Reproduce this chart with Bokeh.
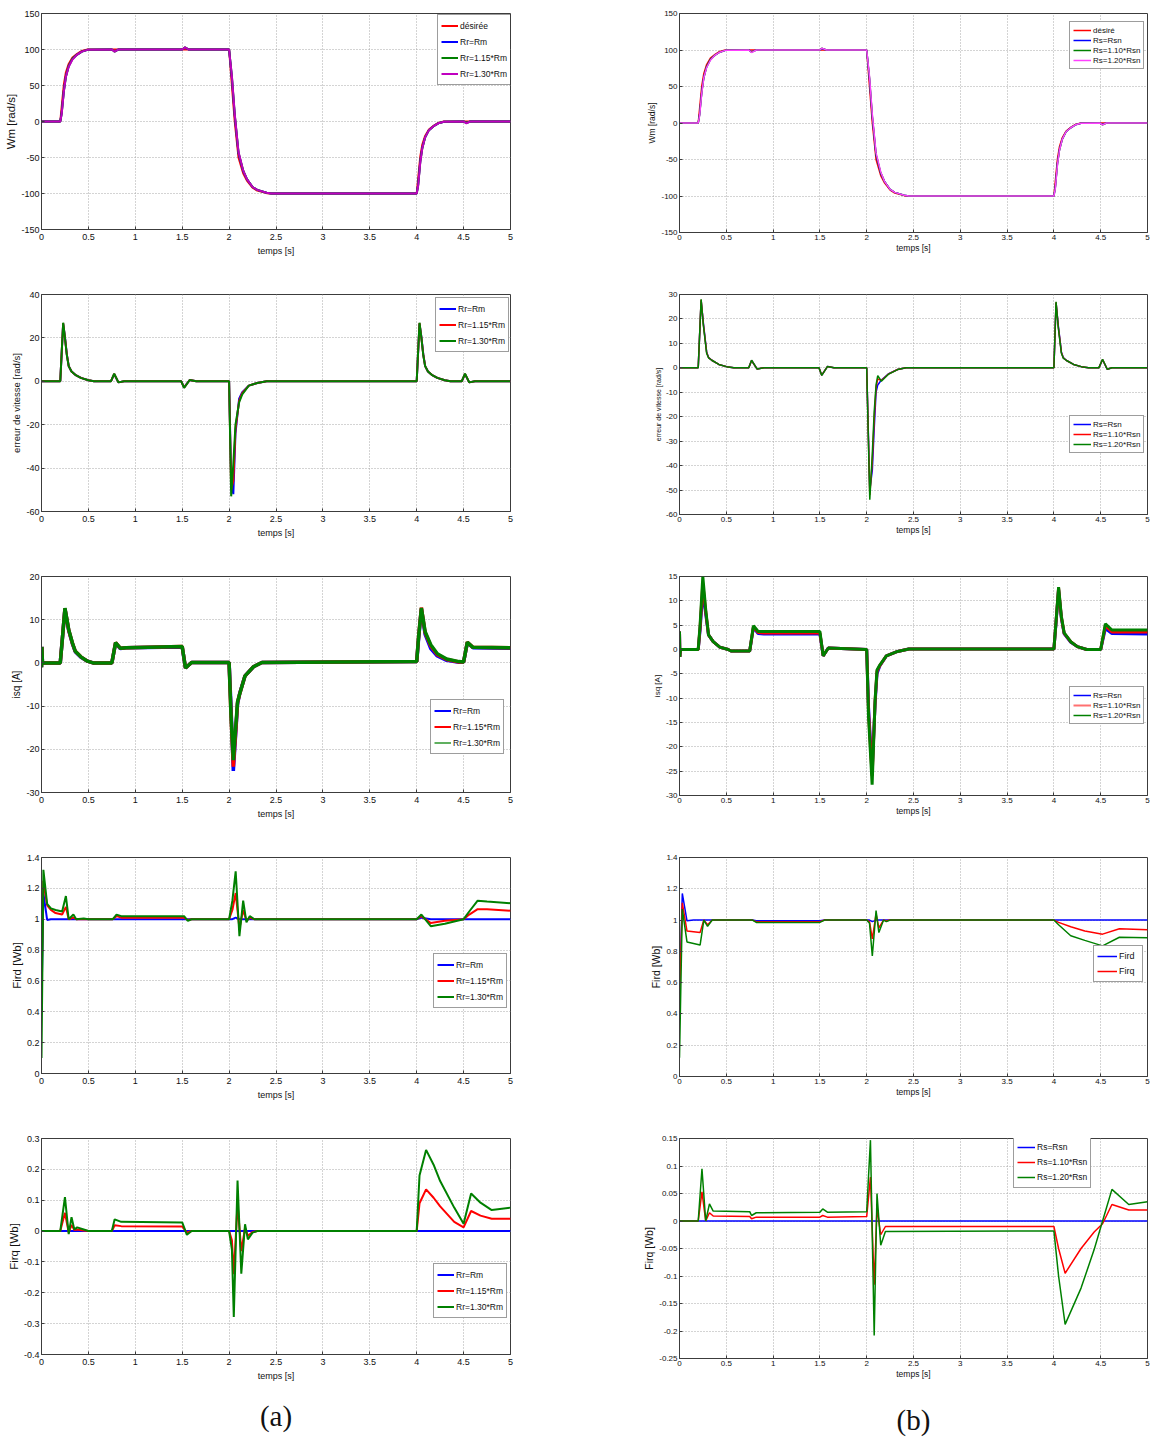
from bokeh.plotting import figure
from bokeh.models import Range1d, FixedTicker, Legend, LegendItem, LinearAxis
from bokeh.layouts import row, column
from bokeh.embed import file_html
from bokeh.resources import INLINE

FONT = "Liberation Sans"
CAP_FONT = "Liberation Serif"

RED = "#ff0000"
BLUE = "#0000ff"
GREEN = "#008000"
MAGENTA = "#c000c0"
PINK = "#ff40ff"
NAN = float("nan")

x_ticks = [0, 0.5, 1, 1.5, 2, 2.5, 3, 3.5, 4, 4.5, 5]
x_tick_labels = ["0", "0.5", "1", "1.5", "2", "2.5", "3", "3.5", "4", "4.5", "5"]
x_label = "temps [s]"

# ---------------- column (a) ----------------
a1_y_ticks = [-150, -100, -50, 0, 50, 100, 150]
a1_y_labels = ["-150", "-100", "-50", "0", "50", "100", "150"]
a1_t = [0, 0.2, 0.215, 0.238, 0.26, 0.29, 0.33, 0.38, 0.43, 0.49,
        0.75, 0.78, 0.82, 1.5, 1.53, 1.57,
        2.0, 2.03, 2.06, 2.1, 2.15, 2.19, 2.25, 2.3, 2.4, 2.45,
        4.0, 4.015, 4.038, 4.06, 4.09, 4.13, 4.18, 4.23, 4.29,
        4.5, 4.53, 4.57, 5.0]
a1_des = [0, 0, 20, 51, 68, 80, 89, 94, 98, 100,
          100, 100, 100, 100, 100, 100,
          100, 50, 0, -50, -72, -82, -92, -96, -99.5, -100,
          -100, -80, -49, -32, -20, -11, -6, -2, 0,
          0, 0, 0, 0]
a1_rr1 = [0, 0, 12, 43, 63, 77, 87, 93, 97, 99.5,
          100, 97.5, 100, 100, 102.5, 100,
          100, 60, 8, -44, -69, -80, -91, -95, -99, -100,
          -100, -88, -55, -36, -22, -12, -6.5, -2.5, -0.3,
          0, -2, 0, 0]
a1_rr2 = [0, 0, 11, 42, 62, 77, 87, 93, 97, 99.5,
          100, 97, 100, 100, 103, 100,
          100, 62, 10, -43, -68, -80, -91, -95, -99, -100,
          -100, -89, -56, -37, -22, -12, -6.5, -2.5, -0.3,
          0, -2, 0, 0]
a1_rr3 = [0, 0, 10, 41, 62, 76, 86, 93, 97, 99.5,
          100, 97, 100, 100, 103, 100,
          100, 63, 11, -42, -68, -80, -91, -95, -99, -100,
          -100, -90, -57, -37, -22, -12, -6.5, -2.5, -0.3,
          0, -2.5, 0, 0]

a2_y_ticks = [-60, -40, -20, 0, 20, 40]
a2_y_labels = ["-60", "-40", "-20", "0", "20", "40"]
a2_t = [0, 0.2, 0.231, 0.25, 0.27, 0.29, 0.32, 0.36, 0.42, 0.5,
        0.56, 0.74, 0.775, 0.82, 0.88,
        1.49, 1.52, 1.58, 1.65,
        2.0, 2.022, 2.045, 2.068, 2.107, 2.14, 2.21, 2.3, 2.4,
        4.0, 4.03, 4.05, 4.07, 4.09, 4.12, 4.16, 4.22, 4.3, 4.36,
        4.48, 4.515, 4.56, 4.62, 5.0]
a2_rr1 = [0, 0, 26.5, 20.5, 12.5, 7, 4.5, 3, 1.6, 0.5,
          0, 0, 3.3, -0.5, 0,
          0, -2.8, 0.6, 0,
          0, -46, -52, -24, -8, -5, -2, -0.8, 0,
          0, 26.5, 20.5, 12.5, 7, 4.5, 3, 1.6, 0.5, 0,
          0, 3.3, -0.5, 0, 0]
a2_rr2 = [0, 0, 26.8, 20, 12.3, 7, 4.5, 3, 1.6, 0.5,
          0, 0, 3.4, -0.5, 0,
          0, -2.9, 0.6, 0,
          0, -50, -46, -22, -9, -5.5, -2, -0.8, 0,
          0, 26.8, 20, 12.3, 7, 4.5, 3, 1.6, 0.5, 0,
          0, 3.4, -0.5, 0, 0]
a2_rr3 = [0, 0, 27, 20, 12, 7, 4.5, 3, 1.6, 0.5,
          0, 0, 3.5, -0.5, 0,
          0, -3, 0.6, 0,
          0, -53, -38, -20, -9.7, -6, -2, -0.8, 0,
          0, 27, 20, 12, 7, 4.5, 3, 1.6, 0.5, 0,
          0, 3.5, -0.5, 0, 0]

a3_y_ticks = [-30, -20, -10, 0, 10, 20]
a3_y_labels = ["-30", "-20", "-10", "0", "10", "20"]
a3_t = [0, 0.004, 0.01, 0.2, 0.22, 0.25, 0.29, 0.33, 0.36, 0.42, 0.49, 0.55,
        0.75, 0.79, 0.84, 0.9, 1.5,
        1.535, 1.6, 2.0,
        2.02, 2.045, 2.07, 2.09, 2.115, 2.17, 2.26, 2.35,
        4.0, 4.02, 4.05, 4.09, 4.15, 4.22, 4.32, 4.45,
        4.5, 4.54, 4.6, 5.0]
a3_rr1 = [-1, 3.7, 0, 0, 5, 12.5, 7.5, 4.4, 2.6, 1.3, 0.4, 0,
          0, 4.6, 3.3, 3.5, 3.7,
          -1.2, 0.1, 0.1,
          -10, -25, -16.5, -9.5, -6.9, -3, -0.9, 0.1,
          0.3, 5.5, 12.5, 6.6, 3.3, 1.6, 0.6, 0.15,
          0.2, 4.7, 3.5, 3.4]
a3_rr2 = [-1, 3.7, 0, 0, 5, 12.6, 7.6, 4.5, 2.7, 1.4, 0.4, 0,
          0, 4.7, 3.4, 3.5, 3.8,
          -1.2, 0.1, 0.1,
          -12, -24, -16, -9.2, -7, -3, -0.9, 0.1,
          0.3, 6, 12.8, 7, 3.9, 1.9, 0.8, 0.2,
          0.2, 4.8, 3.6, 3.5]
a3_rr3 = [-1, 3.7, 0, 0, 5, 12.7, 7.7, 4.6, 2.7, 1.4, 0.4, 0,
          0, 4.7, 3.4, 3.5, 3.8,
          -1.2, 0.1, 0.1,
          -12, -22.5, -15, -9, -7, -3, -0.9, 0.1,
          0.3, 6, 12.7, 7.2, 4.2, 2.1, 0.9, 0.3,
          0.2, 4.8, 3.6, 3.5]

a4_y_ticks = [0, 0.2, 0.4, 0.6, 0.8, 1.0, 1.2, 1.4]
a4_y_labels = ["0", "0.2", "0.4", "0.6", "0.8", "1", "1.2", "1.4"]
a4_t = [0, 0.02, 0.06, 0.1, 0.15, 0.22, 0.26, 0.29, 0.34, 0.37, 0.45, 0.5,
        0.76, 0.8, 0.85, 1.52, 1.56, 1.6,
        2.0, 2.035, 2.07, 2.11, 2.15, 2.185, 2.22, 2.27,
        4.0, 4.05, 4.15, 4.3, 4.5, 4.56, 4.65, 4.75, 5.0]
a4_rr1 = [0.45, 1.17, 0.995, 1.0, 1.0, 1.0, 1.0, 1.0, 1.0, 1.0, 1.0, 1.0,
          1.0, 1.0, 1.0, 1.0, 1.0, 1.0,
          1.0, 1.0, 1.01, 1.0, 1.0, 1.0, 1.0, 1.0,
          1.0, 1.01, 1.0, 1.0, 1.0, 1.0, 1.0, 1.0, 1.0]
a4_rr2 = [0.55, 1.25, 1.09, 1.06, 1.04, 1.03, 1.08, 1.0, 1.01, 1.0, 1.0, 1.0,
          1.0, 1.02, 1.01, 1.01, 0.995, 1.0,
          1.0, 1.06, 1.17, 0.94, 1.06, 0.99, 1.01, 1.0,
          1.0, 1.02, 0.975, 0.99, 1.0, 1.03, 1.065, 1.065, 1.055]
a4_rr3 = [0.1, 1.32, 1.1, 1.07, 1.06, 1.05, 1.15, 1.0, 1.03, 1.0, 1.005, 1.0,
          1.0, 1.03, 1.02, 1.02, 0.99, 1.0,
          1.0, 1.12, 1.31, 0.89, 1.12, 0.98, 1.02, 1.0,
          1.0, 1.03, 0.955, 0.97, 1.0, 1.05, 1.12, 1.115, 1.104]

a5_y_ticks = [-0.4, -0.3, -0.2, -0.1, 0, 0.1, 0.2, 0.3]
a5_y_labels = ["-0.4", "-0.3", "-0.2", "-0.1", "0", "0.1", "0.2", "0.3"]
a5_t = [0, 0.2, 0.25, 0.29, 0.32, 0.35, 0.38, 0.45, 0.5,
        0.75, 0.78, 0.85, 1.5, 1.55, 1.6,
        2.0, 2.03, 2.05, 2.09, 2.13, 2.17, 2.2, 2.25, 2.3,
        4.0, 4.03, 4.1, 4.18, 4.25, 4.4, 4.5, 4.58, 4.68, 4.8, 5.0]
a5_rr1 = [0, 0, 0, 0, 0, 0, 0, 0, 0,
          0, 0, 0, 0, 0, 0,
          0, 0, 0, 0, 0, 0, 0, 0, 0,
          0, 0, 0, 0, 0, 0, 0, 0, 0, 0, 0]
a5_rr2 = [0, 0, 0.059, -0.005, 0.02, 0.003, 0.005, 0.002, 0,
          0, 0.019, 0.016, 0.015, -0.005, 0,
          0, -0.03, -0.14, 0.089, -0.065, 0.01, -0.015, -0.003, 0,
          0, 0.09, 0.135, 0.108, 0.08, 0.03, 0.012, 0.065, 0.05, 0.04, 0.04]
a5_rr3 = [0, 0, 0.11, -0.01, 0.045, 0.005, 0.012, 0.005, 0,
          0, 0.038, 0.03, 0.028, -0.012, 0,
          0, -0.06, -0.278, 0.164, -0.138, 0.022, -0.027, -0.005, 0,
          0, 0.18, 0.263, 0.215, 0.162, 0.076, 0.024, 0.122, 0.092, 0.068, 0.076]

# ---------------- column (b) ----------------
b1_y_ticks = [-150, -100, -50, 0, 50, 100, 150]
b1_y_labels = ["-150", "-100", "-50", "0", "50", "100", "150"]
b1_t = [0, 0.2, 0.215, 0.238, 0.26, 0.29, 0.33, 0.38, 0.43, 0.49,
        0.74, 0.77, 0.82, 1.5, 1.52, 1.57,
        2.0, 2.03, 2.06, 2.1, 2.15, 2.19, 2.25, 2.3, 2.4, 2.45,
        4.0, 4.015, 4.038, 4.06, 4.09, 4.13, 4.18, 4.23, 4.29,
        4.49, 4.52, 4.56, 5.0]
b1_des = [0, 0, 20, 51, 68, 80, 89, 94, 98, 100,
          100, 100, 100, 100, 100, 100,
          100, 50, 0, -50, -72, -82, -92, -96, -99.5, -100,
          -100, -80, -49, -32, -20, -11, -6, -2, 0,
          0, 0, 0, 0]
b1_rs1 = [0, 0, 12, 43, 63, 77, 87, 93, 97, 99.5,
          100, 97.5, 100, 100, 102, 100,
          100, 60, 8, -44, -69, -80, -91, -95, -99, -100,
          -100, -88, -55, -36, -22, -12, -6.5, -2.5, -0.3,
          0, -2, 0, 0]
b1_rs2 = [0, 0, 11, 42, 62, 77, 87, 93, 97, 99.5,
          100, 97, 100, 100, 102.5, 100,
          100, 62, 10, -43, -68, -80, -91, -95, -99, -100,
          -100, -89, -56, -37, -22, -12, -6.5, -2.5, -0.3,
          0, -2.5, 0, 0]
b1_rs3 = [0, 0, 10, 41, 62, 76, 86, 93, 97, 99.5,
          100, 96.5, 100, 100, 102.5, 100,
          100, 64, 12, -41, -67, -80, -91, -95, -99, -100,
          -100, -90, -57, -37, -22, -12, -6.5, -2.5, -0.3,
          0, -2.5, 0, 0]

b2_y_ticks = [-60, -50, -40, -30, -20, -10, 0, 10, 20, 30]
b2_y_labels = ["-60", "-50", "-40", "-30", "-20", "-10", "0", "10", "20", "30"]
b2_t = [0, 0.2, 0.231, 0.256, 0.29, 0.31, 0.345, 0.42, 0.52, 0.58,
        0.74, 0.77, 0.83, 0.9,
        1.49, 1.52, 1.58, 1.65,
        2.0, 2.033, 2.06, 2.08, 2.1, 2.118, 2.157, 2.23, 2.33, 2.42,
        4.0, 4.023, 4.048, 4.08, 4.1, 4.135, 4.21, 4.31, 4.37,
        4.48, 4.52, 4.57, 4.62, 5.0]
b2_rs1 = [0, 0, 27.5, 18, 6.5, 4.3, 3.1, 1.4, 0.3, 0,
          0, 3.0, -0.5, 0,
          0, -3.0, 0.5, 0,
          0, -50, -42, -25, -10, -7, -5, -2.5, -0.7, 0,
          0, 26.5, 17, 6.5, 4.2, 3, 1.4, 0.3, 0,
          0, 3.3, -0.6, 0, 0]
b2_rs2 = [0, 0, 27.8, 17.5, 6.3, 4.2, 3.1, 1.4, 0.3, 0,
          0, 3.0, -0.5, 0,
          0, -3.0, 0.5, 0,
          0, -52, -38, -21, -8, -4.5, -5.2, -2.6, -0.7, 0,
          0, 26.8, 16.5, 6.3, 4.1, 3, 1.4, 0.3, 0,
          0, 3.4, -0.6, 0, 0]
b2_rs3 = [0, 0, 28, 17, 6, 4.1, 3.1, 1.4, 0.3, 0,
          0, 3.1, -0.5, 0,
          0, -3.1, 0.5, 0,
          0, -54, -35, -18, -7, -3.2, -5.5, -2.7, -0.7, 0,
          0, 27, 16, 6, 4, 3, 1.4, 0.3, 0,
          0, 3.5, -0.6, 0, 0]

b3_y_ticks = [-30, -25, -20, -15, -10, -5, 0, 5, 10, 15]
b3_y_labels = ["-30", "-25", "-20", "-15", "-10", "-5", "0", "5", "10", "15"]
b3_t = [0, 0.004, 0.01, 0.2, 0.22, 0.249, 0.28, 0.31, 0.36, 0.43, 0.52, 0.55,
        0.75, 0.79, 0.84, 0.9, 1.5,
        1.535, 1.59, 2.0,
        2.02, 2.058, 2.09, 2.11, 2.14, 2.21, 2.33, 2.45,
        4.0, 4.02, 4.05, 4.08, 4.11, 4.18, 4.25, 4.35,
        4.5, 4.55, 4.62, 5.0]
b3_rs1 = [3.7, -1.5, 0, 0, 4, 12, 7.3, 3, 1.6, 0.5, 0, -0.3,
          -0.3, 4.5, 3.3, 3.2, 3.2,
          -1.3, 0.3, 0,
          -12, -25, -11, -5, -3.4, -1.3, -0.4, 0.1,
          0.1, 4.8, 12.3, 6.4, 3.2, 1.5, 0.6, 0,
          0, 4.3, 3.3, 3.2]
b3_rs2 = [3.7, -1.5, 0, 0, 4.5, 13.5, 7.8, 3, 1.6, 0.5, 0, -0.3,
          -0.3, 4.7, 3.5, 3.4, 3.4,
          -1.3, 0.3, 0,
          -13, -26, -10.5, -4.5, -3.3, -1.3, -0.4, 0.1,
          0.1, 5, 12.6, 6.6, 3.3, 1.6, 0.6, 0,
          0, 4.9, 3.6, 3.6]
b3_rs3 = [3.7, -1.5, 0, 0, 5, 15, 8.2, 3, 1.6, 0.5, 0, -0.3,
          -0.3, 4.9, 3.7, 3.7, 3.7,
          -1.3, 0.3, 0,
          -14, -27.8, -10.3, -4.2, -3.2, -1.3, -0.4, 0.1,
          0.1, 5, 12.8, 6.8, 3.4, 1.6, 0.6, 0,
          0, 5.3, 4.0, 4.0]

b4_y_ticks = [0, 0.2, 0.4, 0.6, 0.8, 1.0, 1.2, 1.4]
b4_y_labels = ["0", "0.2", "0.4", "0.6", "0.8", "1", "1.2", "1.4"]
b4_t = [0, 0.03, 0.08, 0.15, 0.22, 0.26, 0.3, 0.35, 0.45,
        0.78, 0.82, 1.5, 1.55,
        2.0, 2.03, 2.06, 2.1, 2.13, 2.18, 2.21, 2.25,
        4.0, 4.05, 4.18, 4.33, 4.52, 4.7, 5.0]
b4_s1 = [0.5, 1.17, 0.995, 1.0, 1.0, 1.0, 1.0, 1.0, 1.0,
         1.0, 0.995, 0.995, 1.0,
         1.0, 1.0, 0.99, 1.0, 1.0, 1.0, 1.0, 1.0,
         1.0, 1.0, 1.0, 1.0, 1.0, 1.0, 1.0]
b4_s2 = [0.5, 1.11, 0.93, 0.925, 0.92, 1.0, 0.97, 1.0, 1.0,
         1.0, 0.99, 0.99, 1.0,
         1.0, 0.99, 0.88, 1.04, 0.95, 1.0, 0.995, 1.0,
         1.0, 0.985, 0.957, 0.93, 0.91, 0.944, 0.938]
b4_s3 = [0.12, 1.07, 0.86, 0.85, 0.84, 1.0, 0.96, 1.0, 1.0,
         1.0, 0.985, 0.985, 1.0,
         1.0, 0.98, 0.77, 1.06, 0.92, 1.0, 0.99, 1.0,
         1.0, 0.97, 0.9, 0.87, 0.835, 0.89, 0.887]

b5_y_ticks = [-0.25, -0.2, -0.15, -0.1, -0.05, 0, 0.05, 0.1, 0.15]
b5_y_labels = ["-0.25", "-0.2", "-0.15", "-0.1", "-0.05", "0", "0.05", "0.1", "0.15"]
b5_t = [0, 0.2, 0.24, 0.28, 0.32, 0.36, 0.75,
        0.77, 0.82, 1.5, 1.53, 1.58, 2.0,
        2.04, 2.08, 2.11, 2.15, 2.2, 4.0,
        4.05, 4.12, 4.29, 4.43, 4.52, 4.62, 4.8, 5.0]
b5_rs1 = [0, 0, 0, 0, 0, 0, 0,
          0, 0, 0, 0, 0, 0,
          0, 0, 0, 0, 0, 0,
          0, 0, 0, 0, 0, 0, 0, 0]
b5_rs2 = [0, 0, 0.053, 0, 0.015, 0.009, 0.008,
          0.004, 0.007, 0.007, 0.01, 0.007, 0.008,
          0.08, -0.116, 0.024, -0.025, -0.01, -0.01,
          -0.05, -0.095, -0.05, -0.02, -0.005, 0.03, 0.02, 0.02]
b5_rs3 = [0, 0, 0.095, 0, 0.031, 0.018, 0.017,
          0.01, 0.015, 0.016, 0.022, 0.016, 0.017,
          0.147, -0.208, 0.05, -0.044, -0.019, -0.018,
          -0.1, -0.188, -0.122, -0.052, 0, 0.0575, 0.03, 0.035]

legend_a1 = ["désirée", "Rr=Rm", "Rr=1.15*Rm", "Rr=1.30*Rm"]
legend_a = ["Rr=Rm", "Rr=1.15*Rm", "Rr=1.30*Rm"]
legend_b1 = ["désiré", "Rs=Rsn", "Rs=1.10*Rsn", "Rs=1.20*Rsn"]
legend_b = ["Rs=Rsn", "Rs=1.10*Rsn", "Rs=1.20*Rsn"]
legend_b4 = ["Fird", "Firq"]

FRAME = "#3c3c3c"
GRID = "#a8a8a8"
TXT = "#111111"


def panel(width, height, bl, br, bt, bb, yr, yticks, ylabels, ylab,
          fs_tick, fs_xlab, fs_ylab, x_stand, x_lab_stand):
    p = figure(width=width, height=height, x_range=Range1d(0, 5),
               y_range=Range1d(yr[0], yr[1]), output_backend="svg",
               toolbar_location=None, min_border_left=bl, min_border_right=br,
               min_border_top=bt, min_border_bottom=bb,
               background_fill_color="white", border_fill_color="white")
    p.outline_line_color = FRAME
    p.outline_line_width = 1
    xa = p.xaxis[0]
    ya = p.yaxis[0]
    xa.ticker = FixedTicker(ticks=x_ticks)
    xa.major_label_overrides = dict(zip(x_ticks, x_tick_labels))
    ya.ticker = FixedTicker(ticks=yticks)
    ya.major_label_overrides = dict(zip(yticks, ylabels))
    xa.axis_label = x_label
    ya.axis_label = ylab
    for ax, fl in ((xa, fs_xlab), (ya, fs_ylab)):
        ax.major_tick_in = 3
        ax.major_tick_out = 0
        ax.minor_tick_line_color = None
        ax.axis_line_color = FRAME
        ax.major_tick_line_color = FRAME
        ax.major_label_text_font = FONT
        ax.major_label_text_font_size = f"{fs_tick}px"
        ax.major_label_text_color = TXT
        ax.axis_label_text_font = FONT
        ax.axis_label_text_font_size = f"{fl}px"
        ax.axis_label_text_font_style = "normal"
        ax.axis_label_text_color = TXT
    xa.major_label_standoff = x_stand
    xa.axis_label_standoff = x_lab_stand
    ya.major_label_standoff = 2
    ya.axis_label_standoff = 1
    p.xgrid.ticker = FixedTicker(ticks=x_ticks)
    p.ygrid.ticker = FixedTicker(ticks=yticks)
    for g in (p.xgrid, p.ygrid):
        g.grid_line_color = GRID
        g.grid_line_dash = "1 2"
        g.grid_line_width = 1
    return p


def add_caption(p, text, standoff):
    # tick-less extra axis below the x axis, used only to carry the caption
    cap = LinearAxis(ticker=FixedTicker(ticks=[]), axis_label=text,
                     axis_line_color=None, major_tick_line_color=None,
                     minor_tick_line_color=None, axis_label_standoff=standoff,
                     axis_label_text_font=CAP_FONT, axis_label_text_font_size="29px",
                     axis_label_text_font_style="normal", axis_label_text_color=TXT)
    p.add_layout(cap, "below")


def add_legend(p, rends, labels, loc, fs, h, spacing, pad, gw):
    items = [LegendItem(label=l, renderers=[r]) for l, r in zip(labels, rends)]
    leg = Legend(items=items, location=loc, label_text_font=FONT,
                 label_text_font_size=f"{fs}px", label_text_color=TXT,
                 glyph_width=gw, glyph_height=h, label_height=h,
                 label_standoff=2, spacing=spacing, padding=pad, margin=0,
                 border_line_color=FRAME, border_line_width=1,
                 background_fill_color="white", background_fill_alpha=1.0)
    p.add_layout(leg)


def legend_key(p, color, width):
    # empty (NaN) line used only to draw a thinner legend key
    return p.line([NAN], [NAN], color=color, line_width=width)


LW = 640
RW = 511
A_ARGS = dict(fs_tick=9, fs_xlab=9, x_stand=4, x_lab_stand=3)
B_ARGS = dict(fs_tick=8, fs_xlab=8.5, x_stand=2, x_lab_stand=0)

# ----- column (a) -----
pa1 = panel(LW, 289, 41, 130, 13, 60, (-150, 150), a1_y_ticks, a1_y_labels, "Wm [rad/s]", fs_ylab=11.5, **A_ARGS)
r0 = pa1.line(a1_t, a1_des, color=RED, line_width=2)
r1 = pa1.line(a1_t, a1_rr1, color=BLUE, line_width=2)
r2 = pa1.line(a1_t, a1_rr2, color=GREEN, line_width=2)
r3 = pa1.line(a1_t, a1_rr3, color=MAGENTA, line_width=2)
add_legend(pa1, [r0, r1, r2, r3], legend_a1, (396, 144), 8.5, 15, 1, 3, 17)

pa2 = panel(LW, 282, 41, 130, 5, 60, (-60, 40), a2_y_ticks, a2_y_labels, "erreur de vitesse [rad/s]", fs_ylab=9.5, **A_ARGS)
r1 = pa2.line(a2_t, a2_rr1, color=BLUE, line_width=2)
r2 = pa2.line(a2_t, a2_rr2, color=RED, line_width=2)
r3 = pa2.line(a2_t, a2_rr3, color=GREEN, line_width=2)
add_legend(pa2, [r1, r2, r3], legend_a, (394, 159), 8.5, 15, 1, 3, 17)

pa3 = panel(LW, 281, 41, 130, 5, 60, (-30, 20), a3_y_ticks, a3_y_labels, "isq [A]", fs_ylab=10, **A_ARGS)
r1 = pa3.line(a3_t, a3_rr1, color=BLUE, line_width=3.5)
r2 = pa3.line(a3_t, a3_rr2, color=RED, line_width=3.5)
r3 = pa3.line(a3_t, a3_rr3, color=GREEN, line_width=3.5)
k1 = legend_key(pa3, BLUE, 2)
k2 = legend_key(pa3, RED, 2)
k3 = legend_key(pa3, "#60b060", 2)
add_legend(pa3, [k1, k2, k3], legend_a, (389, 38), 8.5, 15, 1, 3, 17)

pa4 = panel(LW, 281, 41, 130, 5, 60, (0, 1.4), a4_y_ticks, a4_y_labels, "Fird [Wb]", fs_ylab=11.5, **A_ARGS)
r1 = pa4.line(a4_t, a4_rr1, color=BLUE, line_width=2)
r2 = pa4.line(a4_t, a4_rr2, color=RED, line_width=2)
r3 = pa4.line(a4_t, a4_rr3, color=GREEN, line_width=2)
add_legend(pa4, [r1, r2, r3], legend_a, (392, 65), 8.5, 15, 1, 3, 17)

pa5 = panel(LW, 305, 41, 130, 5, 84, (-0.4, 0.3), a5_y_ticks, a5_y_labels, "Firq [Wb]", fs_ylab=11.5, **A_ARGS)
r1 = pa5.line(a5_t, a5_rr1, color=BLUE, line_width=2)
r2 = pa5.line(a5_t, a5_rr2, color=RED, line_width=2)
r3 = pa5.line(a5_t, a5_rr3, color=GREEN, line_width=2)
add_legend(pa5, [r1, r2, r3], legend_a, (392, 36), 8.5, 15, 1, 3, 17)
add_caption(pa5, "(a)", 16)

# ----- column (b) -----
pb1 = panel(RW, 289, 38, 4, 13, 57, (-150, 150), b1_y_ticks, b1_y_labels, "Wm [rad/s]", fs_ylab=8.5, **B_ARGS)
r0 = pb1.line(b1_t, b1_des, color=RED, line_width=1.5)
r1 = pb1.line(b1_t, b1_rs1, color=BLUE, line_width=1.5)
r2 = pb1.line(b1_t, b1_rs2, color=GREEN, line_width=1.5)
r3 = pb1.line(b1_t, b1_rs3, color=PINK, line_width=1.5)
add_legend(pb1, [r0, r1, r2, r3], legend_b1, (390, 163), 8, 10, 0, 3, 18)

pb2 = panel(RW, 282, 38, 4, 5, 57, (-60, 30), b2_y_ticks, b2_y_labels, "erreur de vitesse [rad/s]", fs_ylab=7, **B_ARGS)
r1 = pb2.line(b2_t, b2_rs1, color=BLUE, line_width=1.5)
r2 = pb2.line(b2_t, b2_rs2, color=RED, line_width=1.5)
r3 = pb2.line(b2_t, b2_rs3, color=GREEN, line_width=1.5)
add_legend(pb2, [r1, r2, r3], legend_b, (390, 61), 8, 10, 0, 3, 18)

pb3 = panel(RW, 281, 38, 4, 5, 57, (-30, 15), b3_y_ticks, b3_y_labels, "isq [A]", fs_ylab=8, **B_ARGS)
r1 = pb3.line(b3_t, b3_rs1, color=BLUE, line_width=3)
r2 = pb3.line(b3_t, b3_rs2, color=RED, line_width=3)
r3 = pb3.line(b3_t, b3_rs3, color=GREEN, line_width=3)
k1 = legend_key(pb3, BLUE, 1.5)
k2 = legend_key(pb3, "#ff7070", 2)
k3 = legend_key(pb3, GREEN, 1.5)
add_legend(pb3, [k1, k2, k3], legend_b, (390, 71), 8, 10, 0, 3, 18)

pb4 = panel(RW, 281, 38, 4, 5, 57, (0, 1.4), b4_y_ticks, b4_y_labels, "Fird [Wb]", fs_ylab=10.5, **B_ARGS)
r1 = pb4.line(b4_t, b4_s1, color=BLUE, line_width=1.5)
r2 = pb4.line(b4_t, b4_s2, color=RED, line_width=1.5)
r3 = pb4.line(b4_t, b4_s3, color=GREEN, line_width=1.5)
add_legend(pb4, [r1, r2], legend_b4, (414, 94), 9, 14, 1, 3, 20)

pb5 = panel(RW, 305, 38, 4, 5, 80, (-0.25, 0.15), b5_y_ticks, b5_y_labels, "Firq [Wb]", fs_ylab=10.5, **B_ARGS)
r1 = pb5.line(b5_t, b5_rs1, color=BLUE, line_width=1.5)
r2 = pb5.line(b5_t, b5_rs2, color=RED, line_width=1.5)
r3 = pb5.line(b5_t, b5_rs3, color=GREEN, line_width=1.5)
add_legend(pb5, [r1, r2, r3], legend_b, (334, 170), 8.5, 14, 1, 3, 18)
add_caption(pb5, "(b)", 22)

layout = row(column(pa1, pa2, pa3, pa4, pa5, spacing=0),
             column(pb1, pb2, pb3, pb4, pb5, spacing=0), spacing=0)

open("out.html", "w").write(file_html(layout, INLINE))
